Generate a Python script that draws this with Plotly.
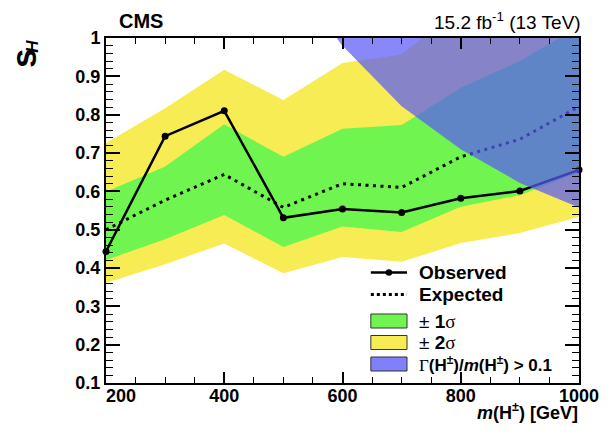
import plotly.graph_objects as go

# ---------------- data ----------------
mass = [200, 300, 400, 500, 600, 700, 800, 900, 1000]
observed = [0.443, 0.744, 0.810, 0.531, 0.554, 0.545, 0.582, 0.601, 0.656]
expected = [0.500, 0.577, 0.644, 0.558, 0.620, 0.610, 0.690, 0.736, 0.821]
sig1_up = [0.599, 0.665, 0.775, 0.690, 0.763, 0.773, 0.870, 0.940, 1.030]
sig1_dn = [0.421, 0.475, 0.538, 0.455, 0.508, 0.494, 0.560, 0.590, 0.650]
sig2_up = [0.726, 0.817, 0.917, 0.838, 0.935, 0.957, 1.080, 1.200, 1.300]
sig2_dn = [0.361, 0.410, 0.464, 0.386, 0.429, 0.416, 0.465, 0.491, 0.534]

width_mass = [500, 600, 700, 800, 900, 1000]
width_limit = [1.18, 0.98, 0.822, 0.710, 0.622, 0.558]
width_top = 1.3

x_ticks = [200, 400, 600, 800, 1000]
x_ticktext = ["\u00a0" * 6 + "200", "400", "600", "800", "1000"]
y_ticks = [0.1, 0.2, 0.3, 0.4, 0.5, 0.6, 0.7, 0.8, 0.9, 1.0]
y_ticktext = ["0.1", "0.2", "0.3", "0.4", "0.5", "0.6", "0.7", "0.8", "0.9", "1"]

GREEN = "rgb(112,245,80)"
YELLOW = "rgb(248,236,84)"
BLUE = "rgba(90,90,245,0.72)"
FONT = "Liberation Sans, Arial, sans-serif"

# plot-area pixel geometry
L, R, T, B = 106, 590, 38, 383
W, H = 611, 437


def px(x):
    return (x - L) / (R - L)


def py(y):
    return (B - y) / (B - T)


fig = go.Figure()

# 2 sigma band
fig.add_trace(go.Scatter(
    x=mass + mass[::-1], y=sig2_up + sig2_dn[::-1],
    fill="toself", fillcolor=YELLOW, line=dict(width=0),
    mode="lines", hoverinfo="skip", showlegend=False))
# 1 sigma band
fig.add_trace(go.Scatter(
    x=mass + mass[::-1], y=sig1_up + sig1_dn[::-1],
    fill="toself", fillcolor=GREEN, line=dict(width=0),
    mode="lines", hoverinfo="skip", showlegend=False))
# expected
fig.add_trace(go.Scatter(
    x=mass, y=expected, mode="lines",
    line=dict(color="black", width=3, dash="3px,4.5px"),
    showlegend=False))
# observed
fig.add_trace(go.Scatter(
    x=mass, y=observed, mode="lines+markers",
    line=dict(color="black", width=2.5),
    marker=dict(color="black", size=7),
    cliponaxis=False, showlegend=False))
# width region
fig.add_trace(go.Scatter(
    x=width_mass + [1000, 500], y=width_limit + [width_top, width_top],
    fill="toself", fillcolor=BLUE, line=dict(width=0),
    mode="lines", hoverinfo="skip", showlegend=False))

shapes = []
annotations = []

# ---------------- legend (manual, ROOT style) ----------------
lx0, lx1 = 377, 414
tx = 424
rows = [272.5, 294.5, 321, 342.5, 364]
sizes = [19, 19, 19, 19, 17]

shapes.append(dict(type="line", xref="paper", yref="paper",
                   x0=px(lx0), x1=px(lx1), y0=py(rows[0]), y1=py(rows[0]),
                   line=dict(color="black", width=2.5)))
r = 3.3
cx = (lx0 + lx1) / 2
shapes.append(dict(type="circle", xref="paper", yref="paper",
                   x0=px(cx - r), x1=px(cx + r), y0=py(rows[0] + r), y1=py(rows[0] - r),
                   fillcolor="black", line=dict(color="black", width=0)))
shapes.append(dict(type="line", xref="paper", yref="paper",
                   x0=px(lx0), x1=px(lx1), y0=py(rows[1]), y1=py(rows[1]),
                   line=dict(color="black", width=3, dash="3px,3px")))
for rowy, col in zip(rows[2:], [GREEN, YELLOW, "rgb(128,128,250)"]):
    shapes.append(dict(type="rect", xref="paper", yref="paper",
                       x0=px(lx0), x1=px(lx1), y0=py(rowy + 7), y1=py(rowy - 7),
                       fillcolor=col, line=dict(color="#333333", width=1)))

legend_texts = [
    "Observed",
    "Expected",
    "<span style='font-weight:normal'>\u00b1</span> 1<span style=\"font-family:'Liberation Serif';font-weight:normal\">\u03c3</span>",
    "<span style='font-weight:normal'>\u00b1</span> 2<span style=\"font-family:'Liberation Serif';font-weight:normal\">\u03c3</span>",
    "<span style=\"font-family:'Liberation Serif';font-weight:normal\">\u0393</span>(H<sup>\u00b1</sup>)/<i>m</i>(H<sup>\u00b1</sup>) &gt; 0.1",
]
for rowy, txt, sz in zip(rows, legend_texts, sizes):
    annotations.append(dict(text=txt, xref="paper", yref="paper",
                            x=px(tx), y=py(rowy), xanchor="left", yanchor="middle",
                            showarrow=False,
                            font=dict(family=FONT, size=sz, color="black", weight="bold")))

# ---------------- labels ----------------
annotations.append(dict(text="CMS", xref="paper", yref="paper",
                        x=px(117), y=py(21), xanchor="left", yanchor="middle",
                        showarrow=False,
                        font=dict(family=FONT, size=20, color="black", weight="bold")))
annotations.append(dict(text="15.2 fb<sup>-1</sup> (13 TeV)", xref="paper", yref="paper",
                        x=px(594), y=py(21), xanchor="right", yanchor="middle",
                        showarrow=False,
                        font=dict(family=FONT, size=19, color="black")))
annotations.append(dict(text="<i>m</i>(H<sup>\u00b1</sup>) [GeV]", xref="paper", yref="paper",
                        x=px(591), y=py(411), xanchor="right", yanchor="middle",
                        showarrow=False,
                        font=dict(family=FONT, size=18, color="black", weight="bold")))
annotations.append(dict(text="s", xref="paper", yref="paper",
                        x=px(21), y=py(58), xanchor="center", yanchor="middle",
                        textangle=-90, showarrow=False,
                        font=dict(family=FONT, size=35, color="black", weight="bold")))
annotations.append(dict(text="<i>H</i>", xref="paper", yref="paper",
                        x=px(30), y=py(46), xanchor="center", yanchor="middle",
                        textangle=-90, showarrow=False,
                        font=dict(family=FONT, size=17, color="black", weight="bold")))

axis_common = dict(
    showgrid=False, zeroline=False, showline=True, linecolor="black", linewidth=2,
    mirror="ticks", ticks="inside", tickcolor="black", tickwidth=1.5,
    tickfont=dict(family=FONT, size=18, color="black", weight="bold"),
)

fig.update_layout(
    width=W, height=H,
    margin=dict(l=L, r=W - R, t=T, b=H - B, pad=0),
    paper_bgcolor="white", plot_bgcolor="white",
    showlegend=False,
    shapes=shapes, annotations=annotations,
    xaxis=dict(range=[200, 1000], tickvals=x_ticks, ticktext=x_ticktext, ticklen=11,
               ticklabelstandoff=-5,
               minor=dict(dtick=50, tick0=0, ticklen=6, ticks="inside", tickcolor="black", tickwidth=1.2),
               **axis_common),
    yaxis=dict(range=[0.1, 1.0], tickvals=y_ticks, ticktext=y_ticktext, ticklen=14,
               minor=dict(dtick=0.02, tick0=0, ticklen=7, ticks="inside", tickcolor="black", tickwidth=1.2),
               **axis_common),
)

fig.write_html("out.html",
               config={"displayModeBar": False},
               post_script="document.body.style.margin='0px';document.body.style.overflow='hidden';")
